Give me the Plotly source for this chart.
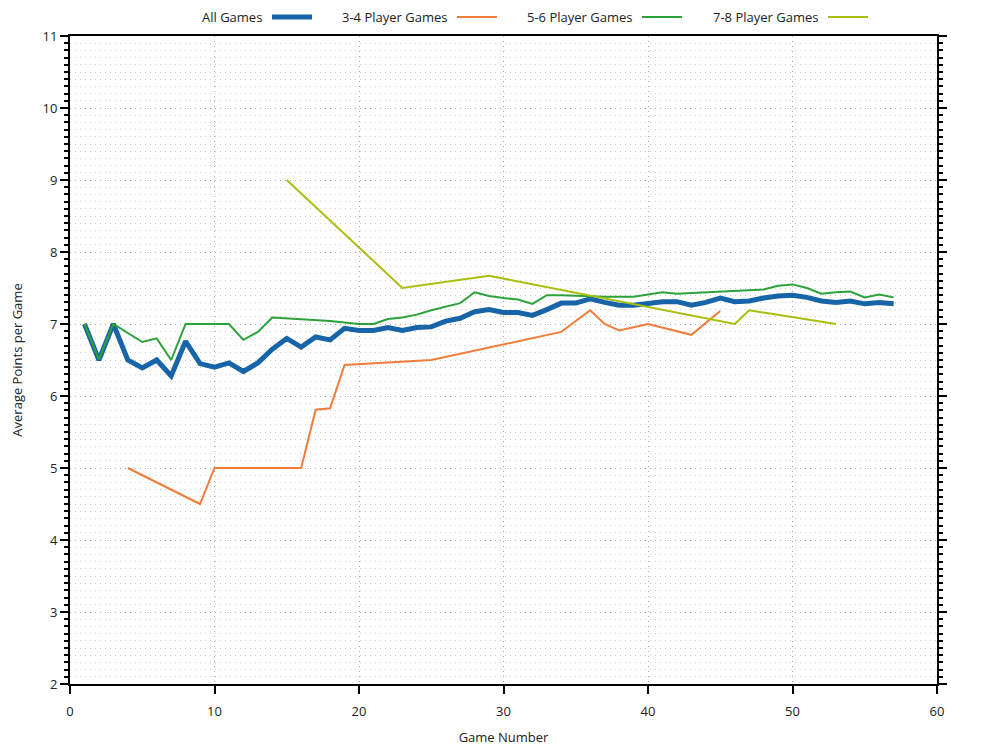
import plotly.graph_objects as go

# ---- data ----
all_x = list(range(1, 58))
all_y = [7.0, 6.5, 7.0, 6.5, 6.39, 6.5, 6.28, 6.76, 6.45, 6.4,
         6.46, 6.34, 6.46, 6.65, 6.8, 6.68, 6.82, 6.78, 6.94, 6.91,
         6.91, 6.95, 6.91, 6.95, 6.96, 7.04, 7.08, 7.17, 7.2, 7.16,
         7.16, 7.12, 7.2, 7.29, 7.29, 7.35, 7.3, 7.26, 7.26, 7.28,
         7.31, 7.31, 7.26, 7.3, 7.36, 7.31, 7.32, 7.36, 7.39, 7.4,
         7.37, 7.32, 7.3, 7.32, 7.28, 7.3, 7.28]

p34_x = [4, 9, 10, 16, 17, 18, 19, 25, 34, 36, 37, 38, 40, 43, 45]
p34_y = [5.0, 4.5, 5.0, 5.0, 5.81, 5.83, 6.43, 6.5, 6.89, 7.19, 7.0, 6.91, 7.0, 6.85, 7.18]

p56_x = list(range(1, 58))
p56_y = [7.0, 6.51, 7.0, 6.88, 6.75, 6.8, 6.5, 7.0, 7.0, 7.0,
         7.0, 6.78, 6.89, 7.09, 7.08, 7.06, 7.05, 7.04, 7.02, 7.0,
         7.0, 7.07, 7.09, 7.13, 7.19, 7.24, 7.29, 7.44, 7.39, 7.36,
         7.34, 7.28, 7.4, 7.4, 7.39, 7.39, 7.38, 7.38, 7.38, 7.41,
         7.44, 7.42, 7.43, 7.44, 7.45, 7.46, 7.47, 7.48, 7.53, 7.55,
         7.5, 7.42, 7.44, 7.45, 7.37, 7.41, 7.37]

p78_x = [15, 23, 29, 46, 47, 53]
p78_y = [9.0, 7.5, 7.67, 7.0, 7.19, 7.0]

series_names = ["All Games", "3-4 Player Games", "5-6 Player Games", "7-8 Player Games"]
series_colors = ["#1764a8", "#f07d3a", "#2ca23a", "#a9bf0e"]
series_widths = [5, 2, 2, 2]
series_data = [(all_x, all_y), (p34_x, p34_y), (p56_x, p56_y), (p78_x, p78_y)]

FONT = "Open Sans"
TXT = "#222222"

# page has an 8px body margin; figure is sized to fit the window
FIG_W, FIG_H = 992, 742
PL, PR, PT, PB = 62, 63, 28, 66
W_PLOT = FIG_W - PL - PR
H_PLOT = FIG_H - PT - PB


def px_to_paper_x(px):
    return (px - 8 - PL) / W_PLOT


def py_to_paper_y(py):
    return (FIG_H - PB - (py - 8)) / H_PLOT


fig = go.Figure()
for name, col, w, (xs, ys) in zip(series_names, series_colors, series_widths, series_data):
    fig.add_trace(go.Scatter(x=xs, y=ys, mode="lines", name=name,
                             line=dict(color=col, width=w), showlegend=False))

# ---- custom legend (text followed by swatch) ----
text_end_px = [264, 449, 634, 820]
leg_y = py_to_paper_y(17)
for name, col, w, te in zip(series_names, series_colors, series_widths, text_end_px):
    fig.add_annotation(x=px_to_paper_x(te), y=leg_y, xref="paper", yref="paper",
                       text=name, showarrow=False, xanchor="right", yanchor="middle",
                       font=dict(family=FONT, size=13, color=TXT))
    fig.add_shape(type="line", xref="paper", yref="paper",
                  x0=px_to_paper_x(te + 8), x1=px_to_paper_x(te + 48),
                  y0=leg_y, y1=leg_y, line=dict(color=col, width=w))

grid_minor = "#cccccc"
grid_major = "#a8a8a8"
DOTS = "1px,4px"

fig.update_layout(
    width=FIG_W, height=FIG_H,
    margin=dict(l=PL, r=PR, t=PT, b=PB, autoexpand=False),
    paper_bgcolor="white", plot_bgcolor="white",
    font=dict(family=FONT, size=13, color=TXT),
    xaxis=dict(range=[0, 60], dtick=10, tick0=0, showline=True, linecolor="black",
               linewidth=2, mirror=True, ticks="outside", ticklen=8, tickwidth=2,
               tickcolor="black", showgrid=True, gridcolor=grid_major, griddash=DOTS,
               gridwidth=1, zeroline=False, automargin=False, ticklabelstandoff=6,
               title=dict(text="Game Number", font=dict(size=13), standoff=14)),
    yaxis=dict(range=[2, 11], dtick=1, tick0=2, showline=True, linecolor="black",
               linewidth=2, mirror="ticks", ticks="outside", ticklen=8, tickwidth=2,
               tickcolor="black", showgrid=True, gridcolor=grid_major, griddash=DOTS,
               zeroline=False, automargin=False,
               minor=dict(dtick=0.1, ticks="outside", ticklen=4, tickwidth=2,
                          tickcolor="black", showgrid=True, gridcolor=grid_minor,
                          griddash=DOTS),
               title=dict(text="Average Points per Game", font=dict(size=13), standoff=17)),
    yaxis2=dict(range=[2, 11], dtick=1, tick0=2, overlaying="y", side="right",
                anchor="x", showline=False, mirror="ticks", ticks="inside",
                ticklen=7, tickwidth=2, tickcolor="black", showgrid=False,
                zeroline=False, showticklabels=True, automargin=False,
                minor=dict(dtick=0.1, ticks="inside", ticklen=3, tickwidth=2,
                           tickcolor="black", showgrid=False)),
)

fig.write_html("out.html")
